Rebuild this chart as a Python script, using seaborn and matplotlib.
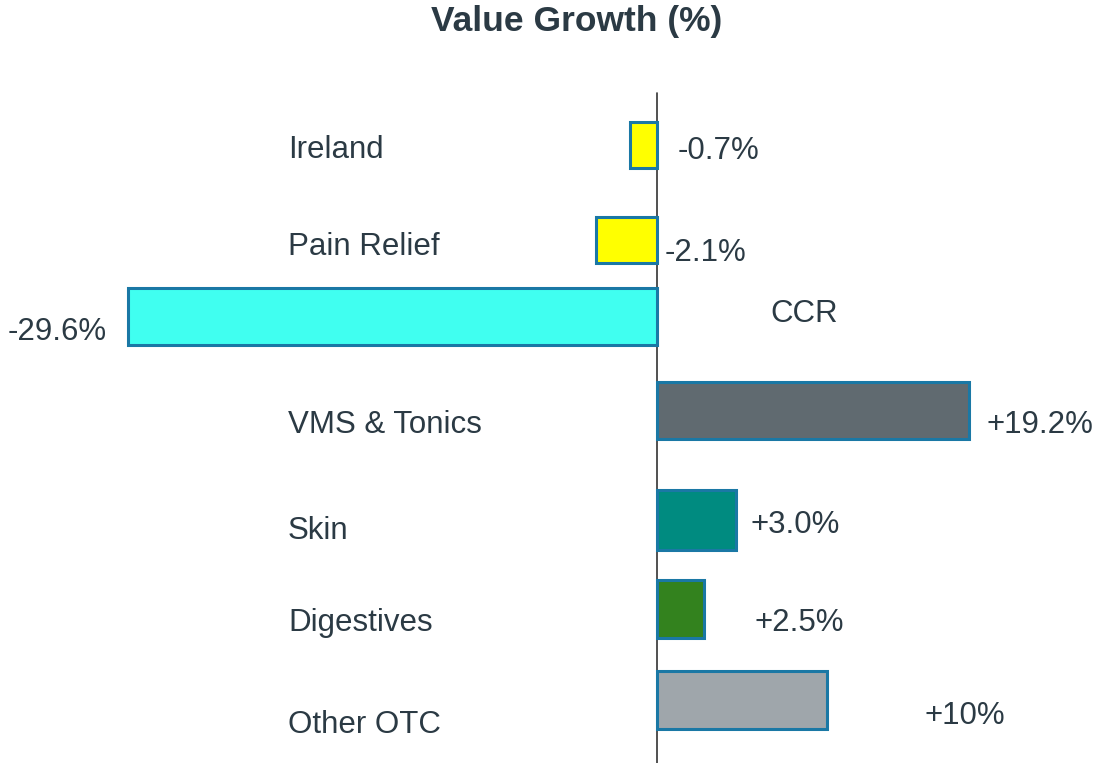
"""Value growth by category, horizontal bars around a zero line."""
import pandas as pd
import matplotlib.pyplot as plt
import seaborn as sns

# Data
categories = ["Ireland", "Pain Relief", "CCR", "VMS & Tonics", "Skin", "Digestives", "Other OTC"]
value_labels = ["-0.7%", "-2.1%", "-29.6%", "+19.2%", "+3.0%", "+2.5%", "+10%"]
# drawn bar lengths (in % units, CCR bar used as the -29.6 anchor)
bar_lengths = [-1.5, -3.4, -29.6, 17.45, 4.4, 2.65, 9.5]

# Layout (pixel units of the 1094x763 canvas)
bar_centers = [144.5, 239.5, 316.5, 410.5, 520, 608.5, 699.5]
bar_heights = [46, 46, 57, 57, 60, 58, 58]
colors = ["#ffff00", "#ffff00", "#40fff0", "#606a70", "#008b80", "#33821e", "#9fa6ab"]
edge = "#1a78a5"
cat_x = [288, 288, 770, 288, 288, 288, 288]
cat_y = [150, 247, 314, 425, 531, 623, 725]
val_x = [678, 665, 8, 987, 751, 755, 925]
val_y = [151, 253, 332, 425, 525, 623, 716]

W, H = 1094, 763
zero_px = 657
px_per_unit = 529 / 29.6
text_col = "#2b3a44"


def px_to_x(px):
    return (px - zero_px) / px_per_unit


sns.set_style("white")
plt.rcParams["font.family"] = ["Liberation Sans", "DejaVu Sans"]

df = pd.DataFrame({"category": categories, "length": bar_lengths, "pos": bar_centers})

fig = plt.figure(figsize=(W / 100, H / 100), dpi=100)
ax = fig.add_axes([0, 0, 1, 1])
sns.barplot(df, x="length", y="pos", hue="category", palette=colors, orient="h",
            native_scale=True, dodge=False, legend=False, edgecolor=edge,
            linewidth=2.2, saturation=1, ax=ax)

# reposition bars to their individual centres / thicknesses
for p in ax.patches:
    c = p.get_y() + p.get_height() / 2
    i = min(range(len(bar_centers)), key=lambda k: abs(bar_centers[k] - c))
    p.set_y(bar_centers[i] - bar_heights[i] / 2)
    p.set_height(bar_heights[i])

ax.set_xlim(px_to_x(0), px_to_x(W))
ax.set_ylim(H, 0)
ax.plot([0, 0], [93, H], color="#333333", lw=1.2, zorder=0)

for name, x, y in zip(categories, cat_x, cat_y):
    ax.text(px_to_x(x), y, name, fontsize=22.5, color=text_col, ha="left", va="center")
for lab, x, y in zip(value_labels, val_x, val_y):
    ax.text(px_to_x(x), y, lab, fontsize=22.5, color=text_col, ha="left", va="center")

fig.text(577 / W, 1 - 22 / H, "Value Growth (%)", fontsize=25.5, fontweight="bold",
         color=text_col, ha="center", va="center")

ax.set_axis_off()
fig.savefig("out.png", dpi=100)
